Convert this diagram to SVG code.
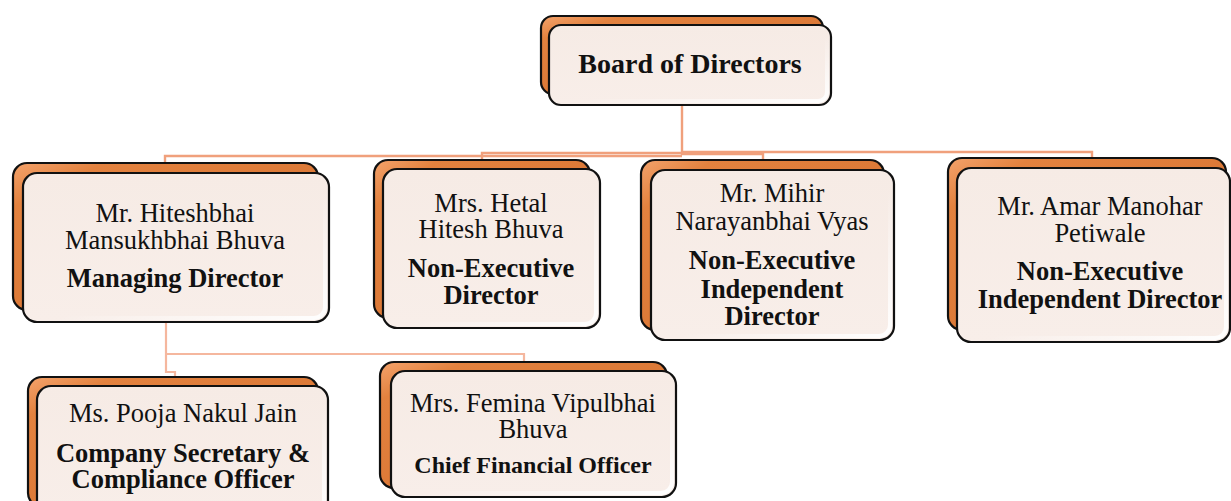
<svg xmlns="http://www.w3.org/2000/svg" width="1231" height="501" viewBox="0 0 1231 501">
  <defs>
    <linearGradient id="orange" x1="0" y1="0" x2="1" y2="1">
      <stop offset="0" stop-color="#F4A36C"/>
      <stop offset="0.15" stop-color="#E3823F"/>
      <stop offset="1" stop-color="#D46F2E"/>
    </linearGradient>
    <linearGradient id="face" x1="0" y1="0" x2="0" y2="1">
      <stop offset="0" stop-color="#F6EBE5"/>
      <stop offset="1" stop-color="#F8EEE9"/>
    </linearGradient>
    <linearGradient id="hl" x1="0" y1="0" x2="1" y2="1">
      <stop offset="0.55" stop-color="#FFFFFF" stop-opacity="0"/>
      <stop offset="1" stop-color="#FFFFFF" stop-opacity="0.95"/>
    </linearGradient>
  </defs>
  <style>
    .back { fill: url(#orange); stroke: #111; stroke-width: 2.2; }
    .front { fill: url(#face); stroke: #111; stroke-width: 2.2; }
    .bevel { fill: none; stroke: url(#hl); stroke-width: 4; }
    text { font-family: 'Liberation Serif', serif; fill: #111; text-anchor: middle; }
    .name { font-size: 26.5px; font-weight: normal; }
    .role { font-size: 26.5px; font-weight: bold; }
    .conn { fill: none; stroke: #F0A07C; stroke-width: 2.4; }
    .conn2 { fill: none; stroke: #F5B79E; stroke-width: 2.2; }
  </style>

  <g id="connectors">
    <path class="conn" d="M682,105 V155" stroke-width="3"/>
    <path class="conn" d="M682,156 H165 V163"/>
    <path class="conn" d="M682,153 H482 V160"/>
    <path class="conn" d="M682,152 H1092 V158"/>
    <path class="conn" d="M682,154 H763 V170"/>
    <path class="conn2" d="M166,322 V372 H175 V377"/>
    <path class="conn2" d="M166,354 H524 V362"/>
  </g>

  <g id="board">
    <rect class="back" x="541" y="16" width="282" height="78" rx="12"/>
    <rect class="front" x="549" y="25" width="282" height="80" rx="12"/>
    <rect class="bevel" x="553" y="29" width="274" height="72" rx="9"/>
    <text class="role" x="690" y="73" style="font-size:28px">Board of Directors</text>
  </g>

  <g id="md">
    <rect class="back" x="13" y="163" width="305" height="147" rx="14"/>
    <rect class="front" x="23" y="173" width="306" height="149" rx="14"/>
    <rect class="bevel" x="27" y="177" width="298" height="141" rx="11"/>
    <text class="name" x="175" y="222">Mr. Hiteshbhai</text>
    <text class="name" x="175" y="249">Mansukhbhai Bhuva</text>
    <text class="role" x="175" y="287">Managing Director</text>
  </g>

  <g id="hetal">
    <rect class="back" x="374" y="160" width="216" height="158" rx="14"/>
    <rect class="front" x="383" y="169" width="217" height="159" rx="14"/>
    <rect class="bevel" x="387" y="173" width="209" height="151" rx="11"/>
    <text class="name" x="491" y="212">Mrs. Hetal</text>
    <text class="name" x="491" y="238">Hitesh Bhuva</text>
    <text class="role" x="491" y="277">Non-Executive</text>
    <text class="role" x="491" y="304">Director</text>
  </g>

  <g id="mihir">
    <rect class="back" x="641" y="160" width="243" height="170" rx="14"/>
    <rect class="front" x="651" y="170" width="243" height="170" rx="14"/>
    <rect class="bevel" x="655" y="174" width="235" height="162" rx="11"/>
    <text class="name" x="772" y="202">Mr. Mihir</text>
    <text class="name" x="772" y="230">Narayanbhai Vyas</text>
    <text class="role" x="772" y="269">Non-Executive</text>
    <text class="role" x="772" y="298">Independent</text>
    <text class="role" x="772" y="325">Director</text>
  </g>

  <g id="amar">
    <rect class="back" x="948" y="158" width="278" height="172" rx="14"/>
    <rect class="front" x="957" y="168" width="273" height="174" rx="14"/>
    <rect class="bevel" x="961" y="172" width="265" height="166" rx="11"/>
    <text class="name" x="1100" y="215">Mr. Amar Manohar</text>
    <text class="name" x="1100" y="242">Petiwale</text>
    <text class="role" x="1100" y="280">Non-Executive</text>
    <text class="role" x="1100" y="308">Independent Director</text>
  </g>

  <g id="pooja">
    <rect class="back" x="28" y="377" width="290" height="130" rx="14"/>
    <rect class="front" x="37" y="386" width="291" height="130" rx="14"/>
    <rect class="bevel" x="41" y="390" width="283" height="122" rx="11"/>
    <text class="name" x="183" y="422">Ms. Pooja Nakul Jain</text>
    <text class="role" x="183" y="462">Company Secretary &amp;</text>
    <text class="role" x="183" y="488">Compliance Officer</text>
  </g>

  <g id="femina">
    <rect class="back" x="380" y="362" width="287" height="126" rx="14"/>
    <rect class="front" x="391" y="371" width="285" height="126" rx="14"/>
    <rect class="bevel" x="395" y="375" width="277" height="118" rx="11"/>
    <text class="name" x="533" y="412">Mrs. Femina Vipulbhai</text>
    <text class="name" x="533" y="438">Bhuva</text>
    <text class="role" x="533" y="473" style="font-size:24px">Chief Financial Officer</text>
  </g>
</svg>
